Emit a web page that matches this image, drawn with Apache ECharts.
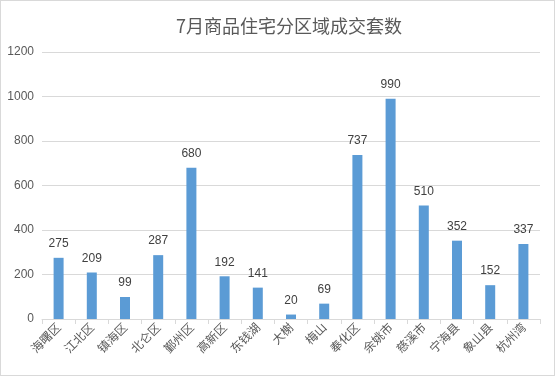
<!DOCTYPE html>
<html>
<head>
<meta charset="utf-8">
<script src="https://cdn.jsdelivr.net/npm/echarts@6/dist/echarts.min.js"></script>
<style>
  html, body { margin: 0; padding: 0; background: #fff; }
  #chart { width: 555px; height: 376px; box-sizing: border-box; border: 1px solid #d9d9d9; }
</style>
</head>
<body>
<div id="chart"></div>
<script>
// districts and July deal counts
const districts = ['海曙区', '江北区', '镇海区', '北仑区', '鄞州区', '高新区', '东钱湖', '大榭', '梅山', '奉化区', '余姚市', '慈溪市', '宁海县', '象山县', '杭州湾'];
const deals = [275, 209, 99, 287, 680, 192, 141, 20, 69, 737, 990, 510, 352, 152, 337];

const chart = echarts.init(document.getElementById('chart'));

const option = {
  animation: false,
  title: {
    text: '7月商品住宅分区域成交套数',
    left: 283,
    textAlign: 'center',
    top: 11,
    textStyle: {
      fontSize: 18,
      fontWeight: 'normal',
      color: '#595959',
      fontFamily: 'Noto Sans CJK SC',
    },
  },
  grid: {
    left: 41,
    right: 14,
    top: 51,
    bottom: 56,
  },
  xAxis: {
    type: 'category',
    data: districts,
    axisLine: { lineStyle: { color: '#d9d9d9' } },
    axisTick: { show: true, lineStyle: { color: '#d9d9d9' } },
    axisLabel: {
      rotate: 45,
      interval: 0,
      fontSize: 12,
      color: '#595959',
      fontFamily: 'Noto Sans CJK SC',
      margin: 6,
    },
  },
  yAxis: {
    type: 'value',
    min: 0,
    max: 1200,
    interval: 200,
    axisLine: { show: false },
    axisTick: { show: false },
    axisLabel: {
      formatter: (v) => String(v),
      fontSize: 12,
      color: '#595959',
      fontFamily: 'Liberation Sans',
      margin: 8,
    },
    splitLine: { lineStyle: { color: '#d9d9d9' } },
  },
  series: [
    {
      type: 'bar',
      data: deals,
      barWidth: 10,
      itemStyle: { color: '#5b9bd5' },
      label: {
        show: true,
        position: 'top',
        distance: 8,
        fontSize: 12,
        color: '#404040',
        fontFamily: 'Liberation Sans',
      },
    },
  ],
};

chart.setOption(option);
</script>
</body>
</html>
